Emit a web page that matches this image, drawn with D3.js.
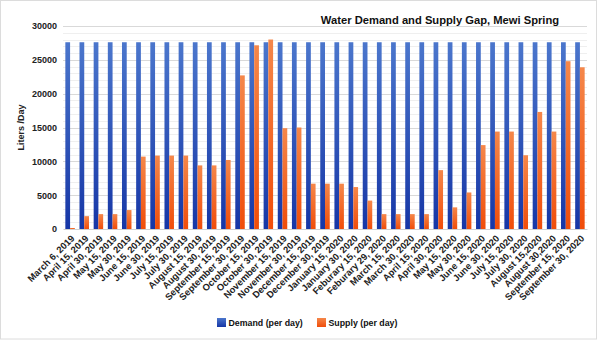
<!DOCTYPE html>
<html><head><meta charset="utf-8">
<script src="https://cdn.jsdelivr.net/npm/d3@7"></script>
<style>body{margin:0;background:#fff}svg{display:block}</style>
</head><body>
<script>
const categories = ["March 6, 2019","April 15, 2019","April 30, 2019","May 15, 2019","May 30, 2019","June 15, 2019","June 30, 2019","July 15, 2019","July 30, 2019","August 15, 2019","August 30, 2019","September 15, 2019","September 30, 2019","October 15, 2019","October 30, 2019","November 15, 2019","November 30, 2019","December 15, 2019","December 30, 2019","January 15, 2020","January 30, 2020","Feburary 15, 2020","Feburary 29, 2020","March 15, 2020","March 30, 2020","April 15, 2020","April 30, 2020","May 15, 2020","May 30, 2020","June 15, 2020","June 30, 2020","July 15, 2020","July 30, 2020","August 15,2020","August 30,2020","September 15, 2020","September 30, 2020"];
const demand = [27600,27600,27600,27600,27600,27600,27600,27600,27600,27600,27600,27600,27600,27600,27600,27600,27600,27600,27600,27600,27600,27600,27600,27600,27600,27600,27600,27600,27600,27600,27600,27600,27600,27600,27600,27600,27600];
const supply = [150,1900,2200,2200,2800,10700,10850,10850,10850,9400,9400,10200,22700,27150,28000,14900,15000,6700,6700,6700,6200,4200,2200,2200,2200,2200,8700,3200,5400,12400,14400,14400,10900,17300,14400,24800,23900];
const yTicks = [0,5000,10000,15000,20000,25000,30000];
const seriesNames = ["Demand (per day)","Supply (per day)"];

const W=598,H=341;
const m={l:63,r:11,t:26,b:112};
const FONT="'Liberation Sans',Arial,sans-serif";
const svg=d3.select("body").append("svg").attr("width",W).attr("height",H);
const defs=svg.append("defs");
function grad(id,c1,c2){const g=defs.append("linearGradient").attr("id",id).attr("x1",0).attr("y1",0).attr("x2",0).attr("y2",1);
 g.append("stop").attr("offset","0%").attr("stop-color",c1);g.append("stop").attr("offset","100%").attr("stop-color",c2);}
grad("gb","#4b76cc","#1636a6");
grad("go","#f5874a","#f04d0a");
svg.append("rect").attr("x",0.5).attr("y",0.5).attr("width",W-2).attr("height",H-2.5).attr("fill","#fff").attr("stroke","#dcdcdc");

const x=d3.scaleBand().domain(categories).range([m.l,W-m.r]).paddingInner(0.33).paddingOuter(0.165);
const x1=d3.scaleBand().domain([0,1]).range([0,x.bandwidth()]);
const y=d3.scaleLinear().domain([0,30000]).range([H-m.b,m.t]);

const g=svg.append("g");
g.selectAll(".mg").data(d3.range(0,30001,1000).filter(v=>v%5000)).join("line")
 .attr("x1",m.l).attr("x2",W-m.r).attr("y1",d=>Math.round(y(d))+0.5).attr("y2",d=>Math.round(y(d))+0.5)
 .attr("stroke","#efefef").attr("stroke-width",1);
g.selectAll(".Mg").data(yTicks.slice(1)).join("line")
 .attr("x1",m.l).attr("x2",W-m.r).attr("y1",d=>Math.round(y(d))+0.5).attr("y2",d=>Math.round(y(d))+0.5)
 .attr("stroke","#d9d9d9").attr("stroke-width",1);

const yAxis=d3.axisLeft(y).tickValues(yTicks).tickFormat(d3.format("d")).tickSize(0).tickPadding(6);
const ya=svg.append("g").attr("transform",`translate(${m.l},0)`).call(yAxis);
ya.select(".domain").remove();
ya.selectAll("text").attr("font-family",FONT).attr("font-size","9px").attr("font-weight","bold").attr("fill","#222");

const bars=svg.append("g");
bars.selectAll(".d").data(demand).join("rect").attr("x",(d,i)=>x(categories[i])+x1(0)).attr("width",x1.bandwidth())
 .attr("y",d=>y(d)).attr("height",d=>y(0)-y(d)).attr("fill","url(#gb)");
bars.selectAll(".s").data(supply).join("rect").attr("x",(d,i)=>x(categories[i])+x1(1)).attr("width",x1.bandwidth())
 .attr("y",d=>y(d)).attr("height",d=>y(0)-y(d)).attr("fill","url(#go)");

const xAxis=d3.axisBottom(x).tickSize(0).tickPadding(0);
const xa=svg.append("g").attr("transform",`translate(0,${y(0)})`).call(xAxis);
xa.select(".domain").attr("stroke","#d0d0d0");
xa.selectAll("text").attr("font-family",FONT).attr("font-size","9.4px").attr("font-weight","bold").attr("fill","#222")
 .attr("text-anchor","end").attr("dy",0).attr("transform","translate(5,10) rotate(-45)");

svg.append("text").attr("transform",`translate(24,${(m.t+H-m.b)/2}) rotate(-90)`).attr("text-anchor","middle")
 .attr("font-family",FONT).attr("font-size","9px").attr("font-weight","bold").attr("fill","#222").text("Liters /Day");

svg.append("text").attr("x",440).attr("y",24).attr("text-anchor","middle")
 .attr("font-family",FONT).attr("font-size","11.2px").attr("font-weight","bold").attr("fill","#111").text("Water Demand and Supply Gap, Mewi Spring");

const leg=svg.append("g");
const lx=[217,317];
seriesNames.forEach((n,i)=>{
 leg.append("rect").attr("x",lx[i]).attr("y",318).attr("width",9).attr("height",9).attr("fill",i?"url(#go)":"url(#gb)");
 leg.append("text").attr("x",lx[i]+11.5).attr("y",326).attr("font-family",FONT).attr("font-size","8.8px").attr("font-weight","bold").attr("fill","#111").text(n);
});
</script>
</body></html>
